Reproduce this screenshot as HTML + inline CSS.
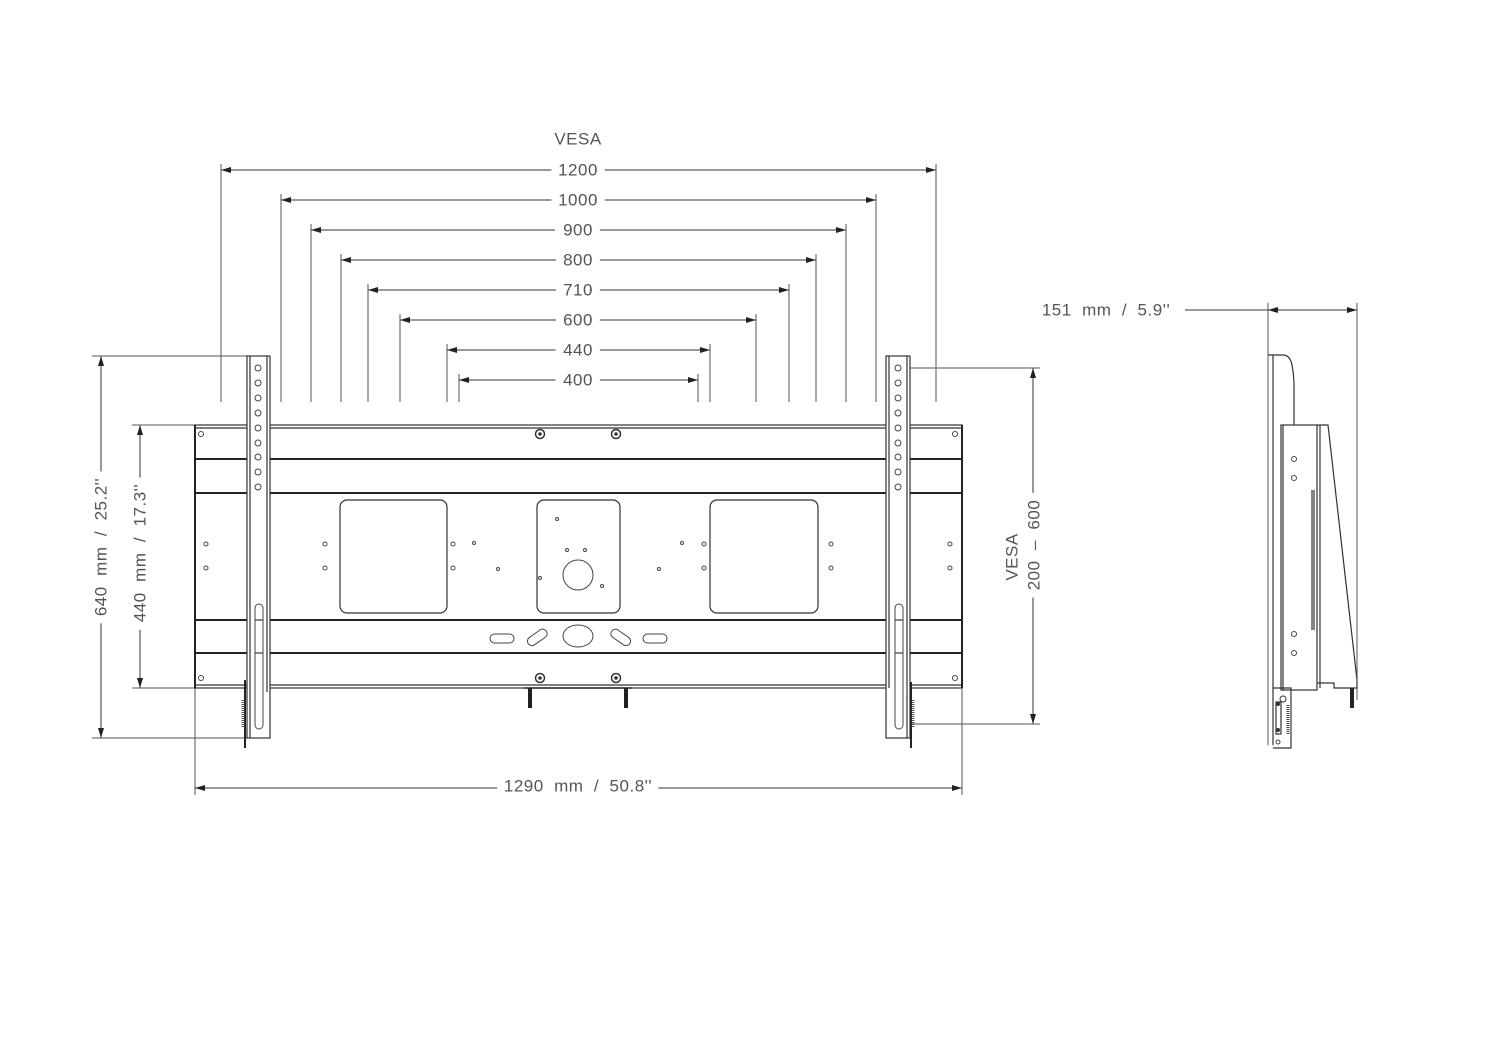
<!DOCTYPE html>
<html><head><meta charset="utf-8"><style>html,body{margin:0;padding:0;background:#fff}svg{display:block}</style></head><body>
<svg width="1500" height="1062" viewBox="0 0 1500 1062" xmlns="http://www.w3.org/2000/svg">
<defs>
<marker id="a" viewBox="0 0 10 6" refX="10" refY="3" markerWidth="10" markerHeight="6" orient="auto-start-reverse" markerUnits="userSpaceOnUse"><path d="M0,0 L10,3 L0,6z" fill="#222"/></marker>
<style>
.t{font-family:"Liberation Sans",sans-serif;font-size:17px;fill:#555;stroke:#fff;stroke-width:16px;paint-order:stroke;text-anchor:middle;dominant-baseline:central;letter-spacing:0.5px;white-space:pre}
.d{stroke:#333;stroke-width:1;fill:none}
.e{stroke:#555;stroke-width:1;fill:none}
.p{stroke:#333;stroke-width:1.2;fill:none}
.b{stroke:#222;stroke-width:2;fill:none}
.h{stroke:#444;stroke-width:1;fill:#fff}
</style>
</defs>

<g>
<line class="e" x1="221" y1="164" x2="221" y2="402"/><line class="e" x1="936" y1="164" x2="936" y2="402"/>
<line class="e" x1="281" y1="194" x2="281" y2="402"/><line class="e" x1="876" y1="194" x2="876" y2="402"/>
<line class="e" x1="311" y1="224" x2="311" y2="402"/><line class="e" x1="846" y1="224" x2="846" y2="402"/>
<line class="e" x1="341" y1="254" x2="341" y2="402"/><line class="e" x1="816" y1="254" x2="816" y2="402"/>
<line class="e" x1="368" y1="284" x2="368" y2="402"/><line class="e" x1="789" y1="284" x2="789" y2="402"/>
<line class="e" x1="400" y1="314" x2="400" y2="402"/><line class="e" x1="756" y1="314" x2="756" y2="402"/>
<line class="e" x1="447" y1="344" x2="447" y2="402"/><line class="e" x1="710" y1="344" x2="710" y2="402"/>
<line class="e" x1="459" y1="374" x2="459" y2="402"/><line class="e" x1="698" y1="374" x2="698" y2="402"/>
<line class="d" x1="221" y1="170" x2="936" y2="170" marker-start="url(#a)" marker-end="url(#a)"/>
<line class="d" x1="281" y1="200" x2="876" y2="200" marker-start="url(#a)" marker-end="url(#a)"/>
<line class="d" x1="311" y1="230" x2="846" y2="230" marker-start="url(#a)" marker-end="url(#a)"/>
<line class="d" x1="341" y1="260" x2="816" y2="260" marker-start="url(#a)" marker-end="url(#a)"/>
<line class="d" x1="368" y1="290" x2="789" y2="290" marker-start="url(#a)" marker-end="url(#a)"/>
<line class="d" x1="400" y1="320" x2="756" y2="320" marker-start="url(#a)" marker-end="url(#a)"/>
<line class="d" x1="447" y1="350" x2="710" y2="350" marker-start="url(#a)" marker-end="url(#a)"/>
<line class="d" x1="459" y1="380" x2="698" y2="380" marker-start="url(#a)" marker-end="url(#a)"/>
<text class="t" x="578" y="139">VESA</text>
<text class="t" x="578" y="170">1200</text>
<text class="t" x="578" y="200">1000</text>
<text class="t" x="578" y="230">900</text>
<text class="t" x="578" y="260">800</text>
<text class="t" x="578" y="290">710</text>
<text class="t" x="578" y="320">600</text>
<text class="t" x="578" y="350">440</text>
<text class="t" x="578" y="380">400</text>
</g>

<line class="e" x1="92" y1="356" x2="247" y2="356"/>
<line class="e" x1="92" y1="738" x2="247" y2="738"/>
<line class="e" x1="132" y1="425" x2="195" y2="425"/>
<line class="e" x1="132" y1="688" x2="195" y2="688"/>
<line class="d" x1="101" y1="356" x2="101" y2="738" marker-start="url(#a)" marker-end="url(#a)"/>
<line class="d" x1="140" y1="425" x2="140" y2="688" marker-start="url(#a)" marker-end="url(#a)"/>
<text class="t" transform="translate(101,547) rotate(-90)">640  mm  /  25.2''</text>
<text class="t" transform="translate(140,553) rotate(-90)">440  mm  /  17.3''</text>

<line class="e" x1="910" y1="368" x2="1040" y2="368"/>
<line class="e" x1="910" y1="724" x2="1040" y2="724"/>
<line class="d" x1="1033" y1="368" x2="1033" y2="724" marker-start="url(#a)" marker-end="url(#a)"/>
<text class="t" style="stroke-width:0" transform="translate(1012,557) rotate(-90)">VESA</text>
<text class="t" transform="translate(1034,545) rotate(-90)">200  –  600</text>

<line class="e" x1="195" y1="688" x2="195" y2="795"/>
<line class="e" x1="962" y1="688" x2="962" y2="795"/>
<line class="d" x1="195" y1="788" x2="962" y2="788" marker-start="url(#a)" marker-end="url(#a)"/>
<text class="t" x="578" y="786">1290  mm  /  50.8''</text>

<rect x="195" y="425" width="767" height="263" class="p"/>
<line class="b" x1="195" y1="425" x2="195" y2="688"/>
<line class="b" x1="962" y1="425" x2="962" y2="688"/>
<line class="p" x1="195" y1="428" x2="962" y2="428"/>
<line class="p" x1="195" y1="685" x2="962" y2="685"/>
<line class="b" x1="195" y1="459" x2="962" y2="459"/>
<line class="b" x1="195" y1="493" x2="962" y2="493"/>
<line class="b" x1="195" y1="620" x2="962" y2="620"/>
<line class="b" x1="195" y1="653" x2="962" y2="653"/>
<rect x="340" y="500" width="107" height="113" rx="7" class="p"/>
<rect x="537" y="500" width="83" height="113" rx="7" class="p"/>
<rect x="710" y="500" width="108" height="113" rx="7" class="p"/>
<circle cx="578" cy="575" r="15" class="h"/>
<ellipse cx="578" cy="636" rx="15" ry="11" class="h"/>
<rect x="490" y="634" width="24" height="9" rx="4.5" class="h"/>
<rect x="643" y="634" width="24" height="9" rx="4.5" class="h"/>
<rect x="526" y="633" width="22" height="9" rx="4.5" class="h" transform="rotate(-35 537 637)"/>
<rect x="610" y="633" width="22" height="9" rx="4.5" class="h" transform="rotate(35 621 637)"/>
<g class="h">
<circle cx="201" cy="434" r="2.5"/><circle cx="201" cy="678" r="2.5"/><circle cx="955" cy="434" r="2.5"/><circle cx="955" cy="678" r="2.5"/>
<circle cx="206" cy="544" r="2"/><circle cx="206" cy="568" r="2"/><circle cx="325" cy="544" r="2"/><circle cx="325" cy="568" r="2"/>
<circle cx="453" cy="544" r="2"/><circle cx="453" cy="568" r="2"/><circle cx="704" cy="544" r="2"/><circle cx="704" cy="568" r="2"/>
<circle cx="831" cy="544" r="2"/><circle cx="831" cy="568" r="2"/><circle cx="950" cy="544" r="2"/><circle cx="950" cy="568" r="2"/>
<circle cx="474" cy="543" r="1.5"/><circle cx="498" cy="569" r="1.5"/><circle cx="557" cy="519" r="1.5"/><circle cx="567" cy="550" r="1.5"/><circle cx="585" cy="550" r="1.5"/><circle cx="540" cy="578" r="1.5"/><circle cx="602" cy="586" r="1.5"/><circle cx="659" cy="569" r="1.5"/><circle cx="682" cy="543" r="1.5"/>
</g>
<g fill="#fff" stroke="#333" stroke-width="1.5">
<circle cx="540" cy="434" r="4.5"/><circle cx="616" cy="434" r="4.5"/><circle cx="540" cy="678" r="4.5"/><circle cx="616" cy="678" r="4.5"/>
</g>
<g fill="#333"><circle cx="540" cy="434" r="1.8"/><circle cx="616" cy="434" r="1.8"/><circle cx="540" cy="678" r="1.8"/><circle cx="616" cy="678" r="1.8"/></g>
<line x1="524" y1="688" x2="632" y2="688" stroke="#555" stroke-width="2"/>
<rect x="528" y="688" width="4" height="20" fill="#222"/>
<rect x="624" y="688" width="4" height="20" fill="#222"/>

<g>
<rect x="247" y="356" width="23" height="382" fill="#fff" stroke="#333" stroke-width="1.2"/>
<line class="p" x1="250" y1="356" x2="250" y2="738"/>
<line class="p" x1="267" y1="356" x2="267" y2="692"/>
<rect x="255" y="604" width="8" height="125" rx="4" class="h"/>
<line class="p" x1="255" y1="620" x2="263" y2="620"/><line class="p" x1="255" y1="653" x2="263" y2="653"/>
<line x1="245" y1="680" x2="245" y2="748" stroke="#222" stroke-width="2"/>
<line x1="243" y1="700" x2="243" y2="728" stroke="#555" stroke-width="3" stroke-dasharray="1 1"/>
<g class="h"><circle cx="258" cy="368" r="3"/><circle cx="258" cy="383" r="3"/><circle cx="258" cy="398" r="3"/><circle cx="258" cy="413" r="3"/><circle cx="258" cy="428" r="3"/><circle cx="258" cy="443" r="3"/><circle cx="258" cy="457" r="3"/><circle cx="258" cy="472" r="3"/><circle cx="258" cy="487" r="3"/></g>
<rect x="886" y="356" width="24" height="382" fill="#fff" stroke="#333" stroke-width="1.2"/>
<line class="p" x1="889" y1="356" x2="889" y2="688"/>
<line class="p" x1="907" y1="356" x2="907" y2="738"/>
<rect x="895" y="604" width="8" height="125" rx="4" class="h"/>
<line class="p" x1="895" y1="620" x2="903" y2="620"/><line class="p" x1="895" y1="653" x2="903" y2="653"/>
<line x1="911" y1="682" x2="911" y2="748" stroke="#222" stroke-width="2"/>
<line x1="913" y1="700" x2="913" y2="728" stroke="#555" stroke-width="3" stroke-dasharray="1 1"/>
<g class="h"><circle cx="898" cy="368" r="3"/><circle cx="898" cy="383" r="3"/><circle cx="898" cy="398" r="3"/><circle cx="898" cy="413" r="3"/><circle cx="898" cy="428" r="3"/><circle cx="898" cy="443" r="3"/><circle cx="898" cy="457" r="3"/><circle cx="898" cy="472" r="3"/><circle cx="898" cy="487" r="3"/></g>
</g>

<text class="t" x="1106" y="310">151  mm  /  5.9''</text>
<line class="e" x1="1268" y1="303" x2="1268" y2="745"/>
<line class="e" x1="1357" y1="303" x2="1357" y2="700"/>
<line class="d" x1="1185" y1="310" x2="1268" y2="310"/>
<line class="d" x1="1268" y1="310" x2="1357" y2="310" marker-start="url(#a)" marker-end="url(#a)"/>
<path d="M1268,355 L1283,355 Q1290,355 1292,365 Q1294,375 1294,385 L1294,425" class="p"/>
<line class="p" x1="1273" y1="355" x2="1273" y2="745"/>
<rect x="1281" y="425" width="36" height="265" class="p"/>
<line class="p" x1="1283" y1="425" x2="1283" y2="690"/>
<line class="p" x1="1312" y1="490" x2="1312" y2="630"/>
<line class="p" x1="1314" y1="490" x2="1314" y2="630"/>
<path d="M1317,425 L1328,425 L1357,680 L1357,688 L1334,688 L1334,683 L1317,683" class="p"/>
<line class="p" x1="1320" y1="425" x2="1320" y2="688"/>
<rect x="1350" y="688" width="4" height="20" fill="#222"/>
<g class="h"><circle cx="1294" cy="459" r="2.5"/><circle cx="1294" cy="478" r="2.5"/><circle cx="1294" cy="634" r="2.5"/><circle cx="1294" cy="653" r="2.5"/></g>
<path d="M1273,688 L1291,688 L1291,748 L1273,748" class="p"/>
<rect x="1276" y="702" width="5" height="32" class="p"/>
<circle cx="1283" cy="699" r="3" fill="#fff" stroke="#333"/>
<circle cx="1278" cy="704" r="2" fill="#333"/><circle cx="1278" cy="730" r="2" fill="#333"/>
<line x1="1288" y1="705" x2="1288" y2="735" stroke="#444" stroke-width="3" stroke-dasharray="1 1"/>
<circle cx="1278" cy="742" r="2" class="h"/>
</svg>
</body></html>
